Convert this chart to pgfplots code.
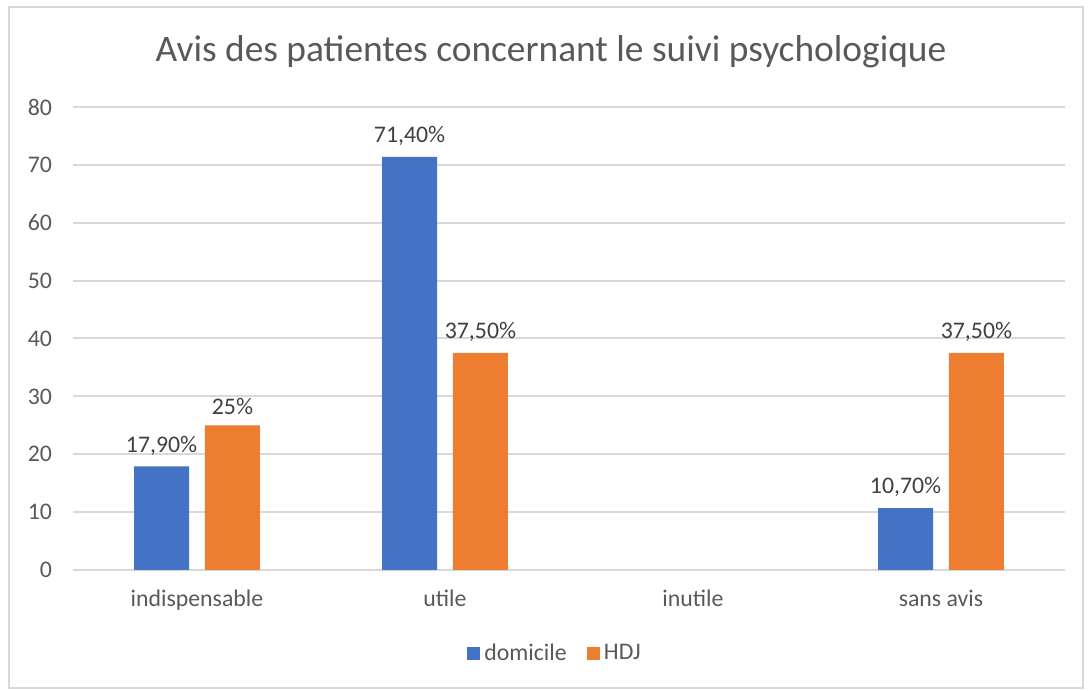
\documentclass[border=0pt]{standalone}
\usepackage{pgfplots}
\pgfplotsset{compat=1.18}
\usepackage{fontspec}
\setmainfont{Carlito}
\definecolor{cblue}{HTML}{4472C4}
\definecolor{corange}{HTML}{ED7D31}
\definecolor{tgray}{HTML}{595959}
\definecolor{lgray}{HTML}{404040}
\definecolor{ggray}{HTML}{D9D9D9}
\begin{document}
\begin{tikzpicture}
\begin{axis}[
  scale only axis, width=496pt, height=231.5pt,
  xmin=-0.5, xmax=3.5, ymin=0, ymax=80,
  ytick={0,10,...,80},
  xtick={0,1,2,3},
  xticklabels={indispensable,utile,inutile,sans avis},
  axis line style={draw=none},
  ymajorgrids, grid style={ggray, line width=1pt},
  major tick length=0pt,
  tick label style={font=\fontsize{11.9}{13}\selectfont, text=tgray},
  yticklabel style={xshift=-7pt},
  xticklabel style={yshift=-6.5pt},
  /pgf/number format/assume math mode=true,
  ybar, bar width=0.222,
  nodes near coords,
  point meta=explicit symbolic,
  nodes near coords style={font=\fontsize{11.9}{13}\selectfont, text=lgray, yshift=2pt},
  title={Avis des patientes concernant le suivi psychologique},
  title style={at={(0.5,1)}, anchor=center, yshift=21.5pt, xshift=-9pt, font=\fontsize{18.7}{21}\selectfont, text=tgray},
  legend style={at={(0.5,-0.18)}, anchor=center, xshift=-6.5pt, draw=none, font=\fontsize{11.9}{13}\selectfont, text=tgray, /tikz/every even column/.append style={column sep=8pt}},
  legend columns=2,
  legend image code/.code={\fill[#1] (0pt,-3.3pt) rectangle (6.6pt,3.3pt);},
]
\addplot[fill=cblue, draw=none, bar shift=-0.143] coordinates {(0,17.9) [17,90\%] (1,71.4) [71,40\%] (3,10.7) [10,70\%]};
\addplot[fill=corange, draw=none, bar shift=0.143] coordinates {(0,25) [25\%] (1,37.5) [37,50\%] (3,37.5) [37,50\%]};
\legend{domicile,HDJ}
\end{axis}
\draw[ggray, line width=1pt] ([shift={(-32pt,-59pt)}]current axis.south west) rectangle ([shift={(9pt,50pt)}]current axis.north east);
\path ([shift={(-36.5pt,-60.5pt)}]current axis.south west) rectangle ([shift={(13.5pt,53.5pt)}]current axis.north east);
\end{tikzpicture}
\end{document}
